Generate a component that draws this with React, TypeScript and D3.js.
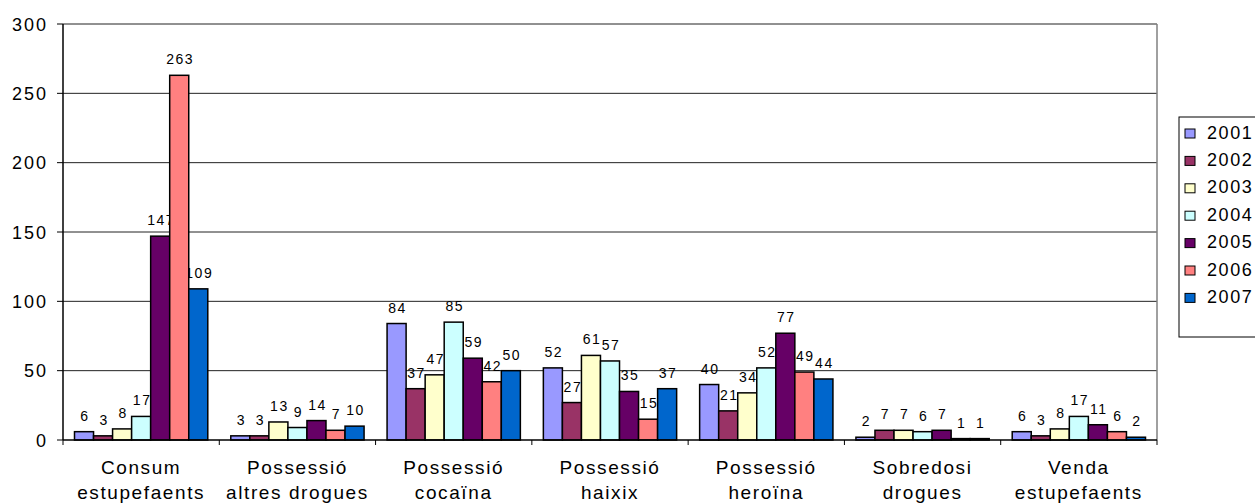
import React from "react";
import * as d3 from "d3";

const categories = [
  ["Consum", "estupefaents"],
  ["Possessió", "altres drogues"],
  ["Possessió", "cocaïna"],
  ["Possessió", "haixix"],
  ["Possessió", "heroïna"],
  ["Sobredosi", "drogues"],
  ["Venda", "estupefaents"],
];
const years = ["2001", "2002", "2003", "2004", "2005", "2006", "2007"];
const colors = ["#9999FF", "#993366", "#FFFFCC", "#CCFFFF", "#660066", "#FF8080", "#0066CC"];
const v2001 = [6, 3, 84, 52, 40, 2, 6];
const v2002 = [3, 3, 37, 27, 21, 7, 3];
const v2003 = [8, 13, 47, 61, 34, 7, 8];
const v2004 = [17, 9, 85, 57, 52, 6, 17];
const v2005 = [147, 14, 59, 35, 77, 7, 11];
const v2006 = [263, 7, 42, 15, 49, 1, 6];
const v2007 = [109, 10, 50, 37, 44, 1, 2];
const series = [v2001, v2002, v2003, v2004, v2005, v2006, v2007];
const yTicks = [0, 50, 100, 150, 200, 250, 300];

const W = 1255, H = 503;
const left = 63, right = 1157, top = 24, bottom = 440;
const font = "Arial, 'Liberation Sans', sans-serif";

export default function App() {
  const catIdx = categories.map((_, i) => String(i));
  const x0 = d3.scaleBand().domain(catIdx).range([left, right]).padding(0);
  const bw = x0.bandwidth();
  const x1 = d3.scaleBand().domain(years).range([11.5, bw - 11.5]).padding(0);
  const y = d3.scaleLinear().domain([0, 300]).range([bottom, top]);

  return (
    <div style={{ position: "absolute", left: 0, top: 0 }}>
      <svg width={W} height={H} style={{ display: "block", fontFamily: font }}>
        <rect x={0} y={0} width={W} height={H} fill="#fff" />
        {/* gridlines */}
        {yTicks.map((t) => (
          <g key={t}>
            {t > 0 && (
              <line x1={left} x2={right} y1={y(t)} y2={y(t)} stroke="#222" strokeWidth={1} />
            )}
            <line x1={57} x2={left} y1={y(t)} y2={y(t)} stroke="#000" strokeWidth={1} />
            <text x={48} y={y(t) + 6.5} textAnchor="end" fontSize={18} letterSpacing={2} fill="#000">
              {t}
            </text>
          </g>
        ))}
        {/* right border */}
        <line x1={right} x2={right} y1={top} y2={bottom} stroke="#808080" strokeWidth={1.5} />
        {/* data labels (drawn under bars) */}
        {categories.map((c, ci) => (
          <g key={"l" + ci} transform={`translate(${x0(String(ci))},0)`}>
            {series.map((s, si) => {
              const v = s[ci];
              const bx = x1(years[si])!;
              return (
                <text
                  key={si}
                  x={bx + x1.bandwidth() / 2 + 1}
                  y={y(v) - 11}
                  textAnchor="middle"
                  fontSize={14}
                  letterSpacing={1.5}
                  fill="#000"
                >
                  {v}
                </text>
              );
            })}
          </g>
        ))}
        {/* bars */}
        {categories.map((c, ci) => (
          <g key={ci} transform={`translate(${x0(String(ci))},0)`}>
            {series.map((s, si) => {
              const v = s[ci];
              const bx = x1(years[si])!;
              return (
                <rect
                  key={si}
                  x={bx}
                  y={y(v)}
                  width={x1.bandwidth()}
                  height={bottom - y(v)}
                  fill={colors[si]}
                  stroke="#000"
                  strokeWidth={1.5}
                />
              );
            })}
          </g>
        ))}
        {/* axes */}
        <line x1={left} x2={left} y1={top} y2={bottom} stroke="#000" strokeWidth={1.5} />
        <line x1={left} x2={right} y1={bottom} y2={bottom} stroke="#000" strokeWidth={1.5} />
        {catIdx.map((k) => (
          <line key={k} x1={x0(k)!} x2={x0(k)!} y1={bottom} y2={bottom + 5} stroke="#000" strokeWidth={1} />
        ))}
        <line x1={right} x2={right} y1={bottom} y2={bottom + 5} stroke="#000" strokeWidth={1} />
        {categories.map((c, ci) => (
          <text
            key={ci}
            x={x0(String(ci))! + bw / 2}
            textAnchor="middle"
            fontSize={19}
            letterSpacing={1.6}
            fill="#000"
          >
            <tspan x={x0(String(ci))! + bw / 2} y={474}>{c[0]}</tspan>
            <tspan x={x0(String(ci))! + bw / 2} y={499}>{c[1]}</tspan>
          </text>
        ))}
        {/* legend */}
        <rect x={1179} y={117} width={90} height={220} fill="#fff" stroke="#000" strokeWidth={1} />
        {years.map((yr, i) => (
          <g key={yr}>
            <rect
              x={1185}
              y={129 + i * 27.4}
              width={10}
              height={9}
              fill={colors[i]}
              stroke="#000"
              strokeWidth={1}
            />
            <text x={1207} y={138.5 + i * 27.4} fontSize={18} letterSpacing={1.6} fill="#000">
              {yr}
            </text>
          </g>
        ))}
      </svg>
    </div>
  );
}
